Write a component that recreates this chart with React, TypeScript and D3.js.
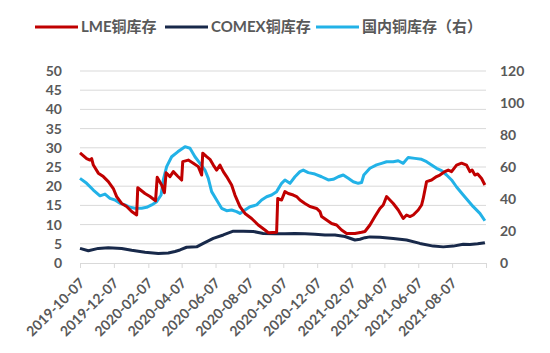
import { useEffect, useRef } from 'react'
import * as d3 from 'd3'

const xTickLabels = [
  '2019-10-07', '2019-12-07', '2020-02-07', '2020-04-07', '2020-06-07', '2020-08-07',
  '2020-10-07', '2020-12-07', '2021-02-07', '2021-04-07', '2021-06-07', '2021-08-07',
]
const xEnd = '2021-10-07'
const leftTicks = [0, 5, 10, 15, 20, 25, 30, 35, 40, 45, 50]
const rightTicks = [0, 20, 40, 60, 80, 100, 120]

// LME copper stocks (left axis, 万吨)
const lmeDates = [
  '2019-10-07', '2019-10-19', '2019-10-25', '2019-10-28', '2019-10-31', '2019-11-09', '2019-11-18',
  '2019-11-27', '2019-12-06', '2019-12-12', '2019-12-21', '2019-12-30', '2020-01-08', '2020-01-17',
  '2020-01-19', '2020-02-01', '2020-02-10', '2020-02-20', '2020-02-23', '2020-03-02', '2020-03-07',
  '2020-03-10', '2020-03-17', '2020-03-23', '2020-03-31', '2020-04-07', '2020-04-09', '2020-04-19',
  '2020-04-28', '2020-05-07', '2020-05-13', '2020-05-15', '2020-05-22', '2020-05-28', '2020-06-03',
  '2020-06-09', '2020-06-15', '2020-06-21', '2020-06-27', '2020-07-06', '2020-07-12', '2020-07-21',
  '2020-07-30', '2020-08-11', '2020-08-23', '2020-09-04', '2020-09-10', '2020-09-25', '2020-09-27',
  '2020-10-04', '2020-10-10', '2020-10-16', '2020-10-25', '2020-10-31', '2020-11-06', '2020-11-15',
  '2020-11-24', '2020-12-06', '2020-12-12', '2020-12-15', '2020-12-24', '2021-01-02', '2021-01-11',
  '2021-01-20', '2021-01-29', '2021-02-13', '2021-02-25', '2021-03-03', '2021-03-12', '2021-03-21',
  '2021-03-30', '2021-04-05', '2021-04-11', '2021-04-17', '2021-04-23', '2021-05-02', '2021-05-11',
  '2021-05-17', '2021-05-23', '2021-05-29', '2021-06-07', '2021-06-13', '2021-06-16', '2021-06-22',
  '2021-07-01', '2021-07-10', '2021-07-16', '2021-07-25', '2021-07-31', '2021-08-06', '2021-08-15',
  '2021-08-24', '2021-09-02', '2021-09-08', '2021-09-12', '2021-09-17', '2021-09-22', '2021-09-29',
  '2021-10-05',
]
const lmeValues = [
  28.7, 27.2, 26.8, 27.2, 25.5, 23.4, 22.5,
  21.2, 19.4, 17.3, 15.5, 14.7, 13.4, 12.5,
  19.6, 18.1, 17.3, 16.2, 22.3, 20.3, 18.3,
  23.5, 22.5, 23.8, 22.6, 21.6, 26.4, 26.8,
  26.0, 25.1, 22.9, 28.6, 27.7, 27.0, 25.5,
  24.2, 25.5, 23.8, 22.5, 20.3, 17.7, 14.7,
  12.9, 11.6, 9.9, 8.6, 7.9, 8.0, 16.8,
  16.4, 18.6, 18.1, 17.7, 17.3, 16.4, 15.5,
  14.7, 14.2, 13.4, 12.1, 11.2, 10.3, 9.9,
  8.6, 7.7, 7.7, 8.0, 8.2, 9.9, 12.1,
  14.2, 15.1, 17.3, 16.4, 15.5, 13.8, 11.6,
  12.5, 12.1, 12.5, 13.8, 15.1, 16.8, 21.2,
  21.6, 22.5, 22.9, 23.8, 24.2, 23.8, 25.5,
  26.0, 25.5, 23.8, 24.2, 22.9, 23.2, 22.0,
  20.3,
]

// COMEX copper stocks (left axis)
const comexDates = [
  '2019-10-07', '2019-10-22', '2019-11-09', '2019-11-27', '2019-12-21', '2020-01-08', '2020-02-01',
  '2020-02-25', '2020-03-14', '2020-03-26', '2020-04-04', '2020-04-16', '2020-05-04', '2020-05-16',
  '2020-06-03', '2020-06-21', '2020-07-09', '2020-07-27', '2020-08-14', '2020-09-01', '2020-09-22',
  '2020-10-10', '2020-10-28', '2020-11-15', '2020-12-03', '2020-12-21', '2021-01-08', '2021-01-26',
  '2021-02-13', '2021-02-22', '2021-03-03', '2021-03-12', '2021-03-30', '2021-04-23', '2021-05-17',
  '2021-06-10', '2021-07-04', '2021-07-22', '2021-08-09', '2021-08-27', '2021-09-08', '2021-09-22',
  '2021-10-05',
]
const comexValues = [
  3.8, 3.2, 3.8, 4.0, 3.8, 3.3, 2.8,
  2.5, 2.6, 3.0, 3.4, 4.1, 4.2, 5.1,
  6.4, 7.3, 8.3, 8.3, 8.2, 7.7, 7.6,
  7.6, 7.7, 7.6, 7.5, 7.3, 7.3, 6.9,
  6.0, 6.2, 6.6, 6.8, 6.7, 6.4, 6.0,
  5.1, 4.4, 4.2, 4.4, 4.9, 4.8, 5.0,
  5.3,
]

// 国内铜库存 (right axis)
const domesticDates = [
  '2019-10-07', '2019-10-19', '2019-10-31', '2019-11-12', '2019-11-21', '2019-11-30', '2019-12-09',
  '2019-12-18', '2019-12-27', '2020-01-05', '2020-01-14', '2020-01-26', '2020-02-04', '2020-02-13',
  '2020-02-22', '2020-03-01', '2020-03-05', '2020-03-11', '2020-03-20', '2020-03-31', '2020-04-13',
  '2020-04-22', '2020-05-01', '2020-05-10', '2020-05-19', '2020-05-25', '2020-05-31', '2020-06-09',
  '2020-06-18', '2020-06-27', '2020-07-06', '2020-07-15', '2020-07-21', '2020-07-30', '2020-08-08',
  '2020-08-20', '2020-08-29', '2020-09-07', '2020-09-16', '2020-09-25', '2020-10-04', '2020-10-10',
  '2020-10-19', '2020-10-28', '2020-11-06', '2020-11-12', '2020-11-21', '2020-12-03', '2020-12-15',
  '2020-12-27', '2021-01-05', '2021-01-14', '2021-01-23', '2021-02-01', '2021-02-10', '2021-02-19',
  '2021-02-25', '2021-03-01', '2021-03-12', '2021-03-24', '2021-04-02', '2021-04-11', '2021-04-23',
  '2021-05-02', '2021-05-11', '2021-05-20', '2021-06-01', '2021-06-13', '2021-06-22', '2021-07-01',
  '2021-07-10', '2021-07-19', '2021-07-28', '2021-08-06', '2021-08-15', '2021-08-27', '2021-09-14',
  '2021-09-26', '2021-10-05',
]
const domesticValues = [
  52.9, 49.8, 45.6, 42.0, 43.1, 40.4, 39.4,
  37.3, 36.3, 34.8, 34.2, 34.2, 34.8, 36.3,
  38.3, 42.5, 51.9, 60.2, 66.4, 69.5, 72.7,
  71.7, 66.4, 62.3, 58.1, 52.9, 44.6, 39.4,
  34.2, 32.7, 33.1, 32.1, 31.0, 33.1, 35.2,
  36.3, 39.4, 41.4, 42.5, 44.6, 49.8, 51.9,
  49.8, 53.9, 57.1, 58.1, 56.5, 55.6, 53.9,
  51.9, 52.3, 53.9, 55.0, 52.9, 50.8, 49.8,
  50.3, 55.0, 59.2, 61.3, 62.3, 63.3, 63.3,
  63.9, 62.3, 66.0, 65.4, 64.8, 63.3, 61.3,
  59.2, 57.7, 55.0, 51.9, 47.5, 42.5, 35.2,
  31.0, 26.4,
]

const legendItems = [
  { label: 'LME铜库存', color: '#C00000' },
  { label: 'COMEX铜库存', color: '#18294A' },
  { label: '国内铜库存（右）', color: '#22B2E7' },
]

const W = 550
const H = 353
const FONT = "Lato, 'Noto Sans CJK SC', sans-serif"
const TEXT = '#595959'

export default function App() {
  const svgRef = useRef<SVGSVGElement>(null)

  useEffect(() => {
    if (!svgRef.current) return
    const svg = d3.select(svgRef.current)
    svg.selectAll('*').remove()

    const parse = d3.timeParse('%Y-%m-%d')
    const margin = { top: 71, right: 64, bottom: 90, left: 80 }
    const innerW = W - margin.left - margin.right
    const innerH = H - margin.top - margin.bottom

    const x = d3
      .scaleTime()
      .domain([parse(xTickLabels[0])!, parse(xEnd)!])
      .range([0, innerW])
    const yL = d3.scaleLinear().domain([0, 50]).range([innerH, 0])
    const yR = d3.scaleLinear().domain([0, 120]).range([innerH, 0])

    const g = svg.append('g').attr('transform', `translate(${margin.left},${margin.top})`)

    // gridlines
    g.selectAll('.grid')
      .data(leftTicks.slice(1))
      .enter()
      .append('line')
      .attr('x1', 0)
      .attr('x2', innerW)
      .attr('y1', (d) => yL(d))
      .attr('y2', (d) => yL(d))
      .attr('stroke', '#D9D9D9')
      .attr('stroke-width', 1)

    // x axis
    const tickDates = [...xTickLabels, xEnd].map((s) => parse(s)!)
    const xAxis = g
      .append('g')
      .attr('transform', `translate(0,${innerH})`)
      .call(
        d3
          .axisBottom(x)
          .tickValues(tickDates)
          .tickSize(5)
          .tickSizeOuter(0)
          .tickFormat((d) => {
            const s = d3.timeFormat('%Y-%m-%d')(d as Date)
            return xTickLabels.includes(s) ? s : ''
          })
      )
    xAxis.select('.domain').attr('stroke', '#D9D9D9')
    xAxis.selectAll('.tick line').attr('stroke', '#D9D9D9')
    xAxis
      .selectAll('.tick text')
      .attr('x', 0)
      .attr('y', 0)
      .attr('dy', 0)
      .attr('fill', TEXT)
      .attr('font-family', FONT)
      .attr('font-weight', 'bold')
      .attr('font-size', '14px')
      .attr('text-anchor', 'end')
      .attr('transform', 'translate(5,21) rotate(-45)')

    // left axis
    const left = g
      .append('g')
      .call(d3.axisLeft(yL).tickValues(leftTicks).tickSize(0).tickPadding(18))
    left.select('.domain').remove()
    left
      .selectAll('.tick text')
      .attr('fill', TEXT)
      .attr('font-family', FONT)
      .attr('font-weight', 'bold')
      .attr('font-size', '14px')

    // right axis
    const right = g
      .append('g')
      .attr('transform', `translate(${innerW},0)`)
      .call(d3.axisRight(yR).tickValues(rightTicks).tickSize(0).tickPadding(14))
    right.select('.domain').remove()
    right
      .selectAll('.tick text')
      .attr('fill', TEXT)
      .attr('font-family', FONT)
      .attr('font-weight', 'bold')
      .attr('font-size', '14px')

    const drawLine = (dates: string[], values: number[], y: d3.ScaleLinear<number, number>, color: string) => {
      const pts: [Date, number][] = dates.map((d, i) => [parse(d)!, values[i]])
      const line = d3
        .line<[Date, number]>()
        .x((d) => x(d[0]))
        .y((d) => y(d[1]))
      g.append('path')
        .datum(pts)
        .attr('fill', 'none')
        .attr('stroke', color)
        .attr('stroke-width', 3)
        .attr('stroke-linejoin', 'round')
        .attr('d', line)
    }

    drawLine(domesticDates, domesticValues, yR, legendItems[2].color)
    drawLine(comexDates, comexValues, yL, legendItems[1].color)
    drawLine(lmeDates, lmeValues, yL, legendItems[0].color)

    // legend
    const legendX = [35, 165, 316]
    const legend = svg.append('g').attr('transform', 'translate(0,27)')
    legendItems.forEach((item, i) => {
      const lg = legend.append('g').attr('transform', `translate(${legendX[i]},0)`)
      lg.append('line')
        .attr('x1', 0)
        .attr('x2', 43)
        .attr('stroke', item.color)
        .attr('stroke-width', 3)
      lg.append('text')
        .attr('x', 46)
        .attr('dy', '0.36em')
        .attr('fill', TEXT)
        .attr('font-family', FONT)
        .attr('font-weight', 'bold')
        .attr('font-size', '15px')
        .text(item.label)
    })
  }, [])

  return (
    <div style={{ position: 'absolute', left: 0, top: 0 }}>
      <svg ref={svgRef} width={W} height={H} style={{ display: 'block', background: '#fff' }} />
    </div>
  )
}
